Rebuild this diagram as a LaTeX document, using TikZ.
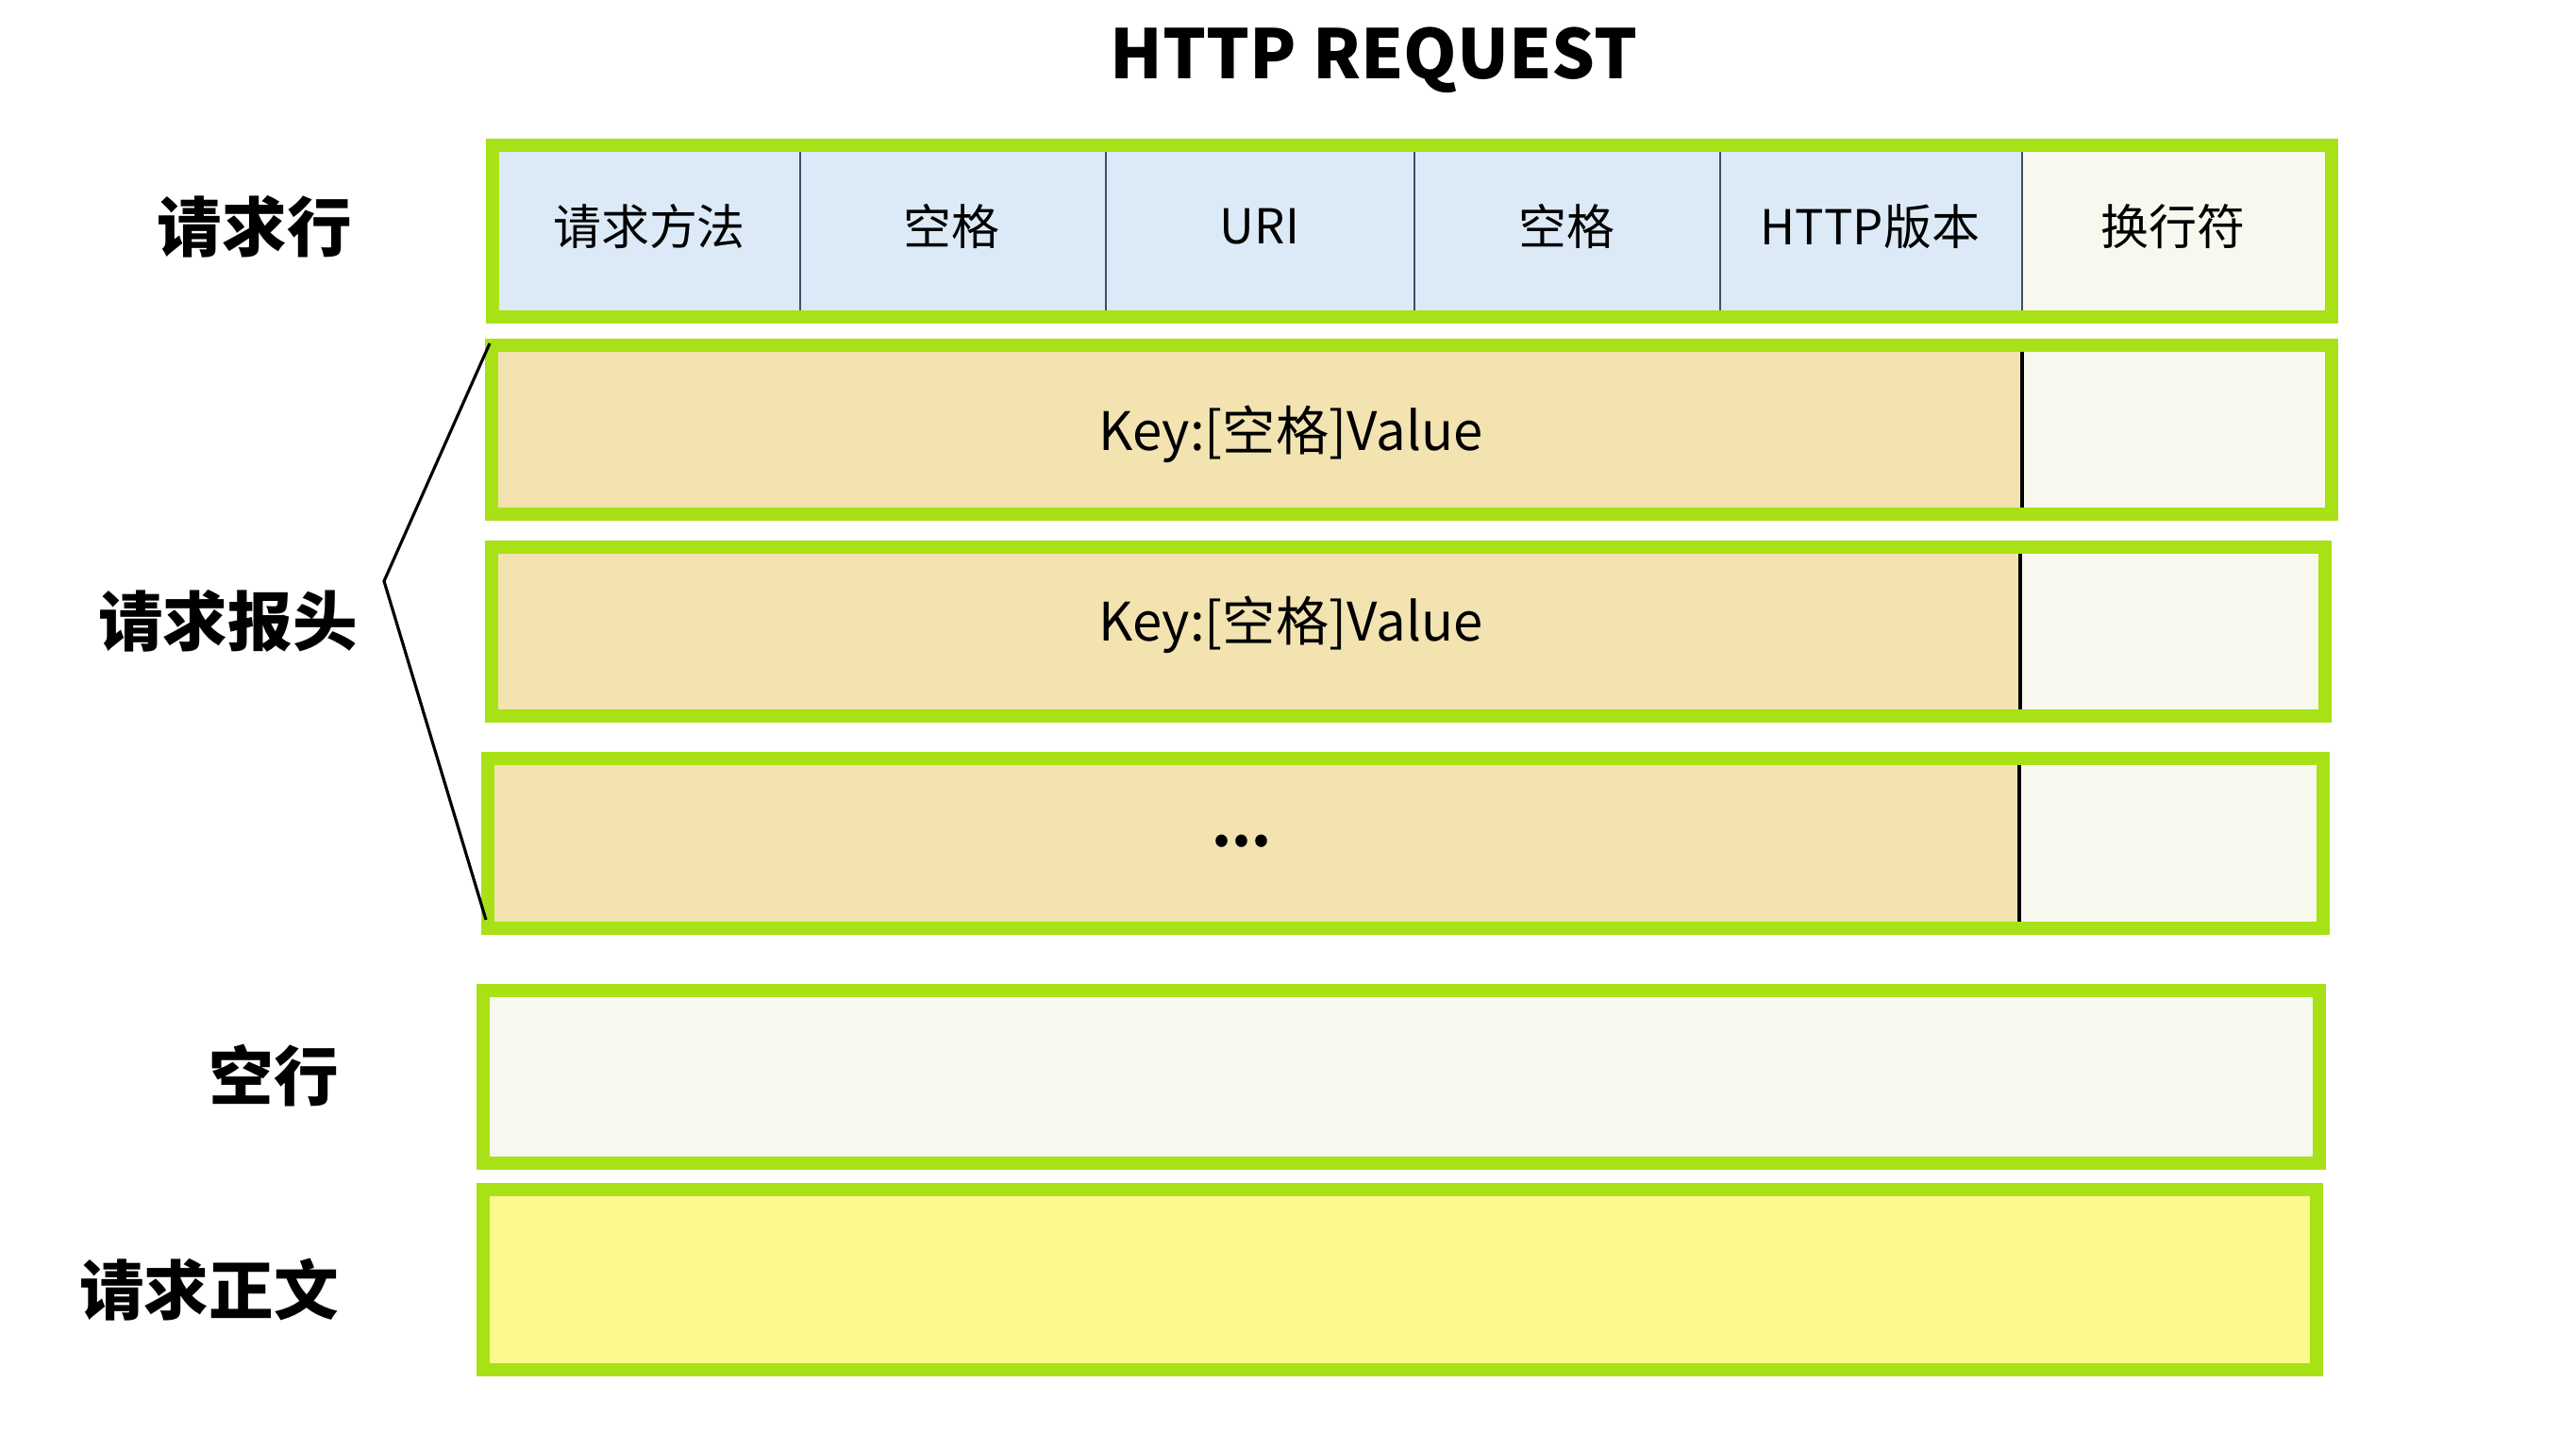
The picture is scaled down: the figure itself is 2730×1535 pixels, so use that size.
\documentclass[tikz,border=0pt]{standalone}
\usepackage{fontspec}
\setmainfont{Noto Sans CJK SC}
\definecolor{framegreen}{HTML}{A8E116}
\definecolor{cellblue}{HTML}{DCEAF7}
\definecolor{cellwhite}{HTML}{F8F8EE}
\definecolor{keyfill}{HTML}{F2E3B0}
\definecolor{emptyfill}{HTML}{F7F8EF}
\definecolor{bodyfill}{HTML}{FCF88A}
\definecolor{sepblue}{HTML}{3D5066}
\begin{document}
\begin{tikzpicture}[x=0.01cm,y=-0.01cm,
  frame/.style={draw=framegreen,line width=0.14cm},
  sep/.style={draw=sepblue,line width=0.6pt},
  hsep/.style={draw=black,line width=0.9pt},
  cell/.style={font=\fontsize{14.5}{17}\selectfont},
  kv/.style={font=\fontsize{16}{19}\selectfont},
  side/.style={font=\bfseries\fontsize{19.5}{23}\selectfont,anchor=east}]
\useasboundingbox (0,0) rectangle (2730,1535);
% title
\node[font=\bfseries\fontsize{20.5}{24}\selectfont] (title) at (1456,64) {HTTP REQUEST};
% request line
\fill[cellblue] (522,154) rectangle (2143,336);
\fill[cellwhite] (2143,154) rectangle (2471,336);
\draw[sep] (848,161)--(848,329);
\draw[sep] (1172,161)--(1172,329);
\draw[sep] (1499,161)--(1499,329);
\draw[sep] (1823,161)--(1823,329);
\draw[sep] (2143,161)--(2143,329);
\draw[frame] (522,154) rectangle (2471,336);
\node[cell] (method) at (688,240) {请求方法};
\node[cell] (spa) at (1008,240) {空格};
\node[cell] (uri) at (1335,240) {URI};
\node[cell] (spb) at (1660,240) {空格};
\node[cell] (version) at (1982,240) {HTTP版本};
\node[cell] (crlfa) at (2303,240) {换行符};
\node[side] (lline) at (385,240) {请求行};
% header rows
\fill[keyfill] (521,366) rectangle (2143,545);
\fill[cellwhite] (2143,366) rectangle (2471,545);
\draw[hsep] (2143,373)--(2143,538);
\draw[frame] (521,366) rectangle (2471,545);
\node[kv] (kva) at (1368,460) {Key:[空格]Value};
\fill[keyfill] (521,580) rectangle (2141,759);
\fill[cellwhite] (2141,580) rectangle (2464,759);
\draw[hsep] (2141,587)--(2141,752);
\draw[frame] (521,580) rectangle (2464,759);
\node[kv] (kvb) at (1368,662) {Key:[空格]Value};
\fill[keyfill] (517,804) rectangle (2140,984);
\fill[cellwhite] (2140,804) rectangle (2462,984);
\draw[hsep] (2140,811)--(2140,977);
\draw[frame] (517,804) rectangle (2462,984);
\node[kv,font=\bfseries\fontsize{17}{20}\selectfont] (kvc) at (1316,892) {...};
\node[side] (lhead) at (391,658) {请求报头};
% bracket
\coordinate (btop) at (519,364);
\coordinate (btip) at (407,616);
\coordinate (bbot) at (515,975);
\draw[line width=0.9pt] (btop)--(btip)--(bbot);
% empty line and body
\draw[frame,fill=emptyfill] (512,1050) rectangle (2458,1233);
\node[side] (lempty) at (371,1140) {空行};
\draw[frame,fill=bodyfill] (512,1261) rectangle (2455,1452);
\node[side] (lbody) at (371,1367) {请求正文};
\end{tikzpicture}
\end{document}
